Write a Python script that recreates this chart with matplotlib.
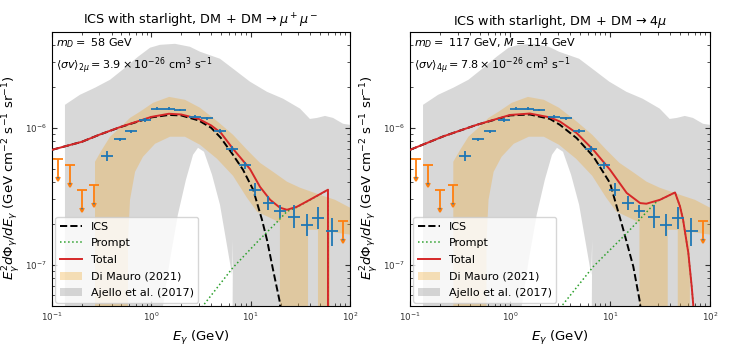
import matplotlib
matplotlib.use("Agg")
import matplotlib.pyplot as plt

# ---------------- data (shared Fermi GCE points) ----------------
data_E = [0.358, 0.48, 0.63, 0.87, 1.14, 1.50, 1.96, 2.77, 3.6, 4.91, 6.44, 8.78,
          11.1, 15.1, 19.7, 27.3, 36.6, 48.0, 65.3]
data_F = [6.25e-7, 8.27e-7, 9.46e-7, 1.14e-6, 1.38e-6, 1.38e-6, 1.35e-6, 1.20e-6,
          1.17e-6, 9.46e-7, 7.0e-7, 5.34e-7, 3.52e-7, 2.82e-7, 2.45e-7, 2.25e-7,
          1.96e-7, 2.19e-7, 1.75e-7]
data_F_lo = [5.75e-7, 8.06e-7, 9.22e-7, 1.11e-6, 1.35e-6, 1.35e-6, 1.32e-6, 1.17e-6,
             1.14e-6, 9.15e-7, 6.66e-7, 5.03e-7, 3.16e-7, 2.49e-7, 2.19e-7, 1.87e-7,
             1.63e-7, 1.82e-7, 1.38e-7]
data_F_hi = [6.80e-7, 8.48e-7, 9.70e-7, 1.17e-6, 1.41e-6, 1.41e-6, 1.38e-6, 1.23e-6,
             1.20e-6, 9.78e-7, 7.36e-7, 5.66e-7, 3.92e-7, 3.20e-7, 2.74e-7, 2.71e-7,
             2.36e-7, 2.63e-7, 2.21e-7]
data_E_lo = [0.312, 0.418, 0.549, 0.758, 0.993, 1.31, 1.71, 2.41, 3.14, 4.28, 5.61, 7.65,
             9.67, 13.2, 17.2, 23.8, 31.9, 41.8, 56.9]
data_E_hi = [0.411, 0.551, 0.723, 0.999, 1.31, 1.72, 2.25, 3.18, 4.13, 5.64, 7.39, 10.1,
             12.7, 17.3, 22.6, 31.3, 42.0, 55.1, 75.0]

ul_E = [0.116, 0.152, 0.199, 0.267, 85.7]
ul_F = [5.91e-7, 5.37e-7, 3.52e-7, 3.84e-7, 2.07e-7]

# ---------------- bands (polygons) ----------------
ajello_E = [0.135, 0.135, 0.191, 0.271, 0.384, 0.543, 0.735, 0.971, 1.22, 1.73, 2.45,
            3.09, 4.91, 6.64, 9.84, 14.6, 21.2, 31.4, 39.5, 46.6, 56.0, 67.5, 85.1,
            100.0, 100.0, 6.49, 6.64, 6.49, 4.91, 4.08, 3.39, 2.95, 2.63, 2.23, 1.85,
            1.54, 1.31, 1.28]
ajello_F = [1e-8, 1.47e-6, 1.74e-6, 1.96e-6, 2.24e-6, 2.74e-6, 3.30e-6, 3.84e-6, 4.03e-6,
            4.10e-6, 3.90e-6, 3.59e-6, 3.19e-6, 2.70e-6, 2.17e-6, 1.83e-6, 1.63e-6,
            1.38e-6, 1.16e-6, 1.18e-6, 1.22e-6, 1.18e-6, 1.07e-6, 1.05e-6, 1e-8, 1e-8,
            1.52e-7, 8.45e-8, 2.74e-7, 4.54e-7, 6.68e-7, 7.14e-7, 6.35e-7, 4.17e-7,
            2.32e-7, 1.09e-7, 5e-8, 1e-8]

dimauro_E = [0.271, 0.271, 0.318, 0.384, 0.484, 0.610, 0.769, 1.04, 1.51, 2.18, 3.09,
             4.58, 6.64, 9.18, 12.4, 16.8, 23.2, 31.4, 49.9, 70.6, 100.0,
             100.0, 62.9, 62.9, 47.6, 47.6, 37.8, 37.8, 19.7, 19.7, 15.7, 11.6, 9.18,
             6.64, 4.58, 3.09, 2.18, 1.54, 1.09, 0.824, 0.686, 0.610, 0.582, 0.582]
dimauro_F = [1e-8, 5.65e-7, 6.91e-7, 8.60e-7, 1.0e-6, 1.18e-6, 1.31e-6, 1.52e-6, 1.68e-6,
             1.60e-6, 1.40e-6, 1.12e-6, 8.89e-7, 6.91e-7, 5.55e-7, 4.77e-7, 4.04e-7,
             3.65e-7, 3.24e-7, 2.98e-7, 2.61e-7,
             1.66e-7, 1.74e-7, 1e-8, 1e-8, 1.80e-7, 1.80e-7, 1e-8, 1e-8, 2.03e-7,
             2.20e-7, 2.44e-7, 3.08e-7, 4.46e-7, 5.94e-7, 7.51e-7, 8.60e-7, 8.60e-7,
             7.64e-7, 6.14e-7, 4.77e-7, 2.98e-7, 1.5e-7, 1e-8]

# ---------------- model curves: left panel (2mu) ----------------
ics1_E = [0.1, 0.2, 0.3, 0.5, 1.0, 1.5, 2.0, 3.0, 4.0, 5.0, 6.63, 8.37, 10.6, 13.0,
          14.6, 16.8, 19.7, 20.5]
ics1_F = [6.9e-7, 7.9e-7, 8.9e-7, 1.017e-6, 1.19e-6, 1.24e-6, 1.23e-6, 1.13e-6, 1.0e-6,
          8.45e-7, 6.35e-7, 4.94e-7, 3.53e-7, 2.13e-7, 1.52e-7, 9.2e-8, 5.3e-8, 3e-8]
prompt1_E = [2.5, 3.3, 6.6, 12.0, 18.4, 23.2, 29.2, 39.4, 60.0, 60.01]
prompt1_F = [4.0e-8, 5.0e-8, 9.5e-8, 1.5e-7, 2.05e-7, 2.45e-7, 2.63e-7, 2.97e-7,
             3.52e-7, 1e-8]
total1_E = [0.1, 0.2, 0.3, 0.5, 1.0, 1.5, 2.0, 3.0, 4.0, 5.0, 6.63, 9.84, 12.4, 15.7,
            19.7, 23.2, 29.2, 39.4, 60.0, 60.01]
total1_F = [6.9e-7, 7.9e-7, 8.9e-7, 1.02e-6, 1.2e-6, 1.265e-6, 1.25e-6, 1.16e-6, 1.04e-6,
            9.2e-7, 7.03e-7, 5.0e-7, 3.71e-7, 2.98e-7, 2.61e-7, 2.52e-7, 2.65e-7,
            2.98e-7, 3.53e-7, 1e-8]

# ---------------- model curves: right panel (4mu) ----------------
ics2_E = [0.1, 0.215, 0.464, 1.0, 1.58, 2.51, 3.16, 4.64, 6.81, 10.0, 13.6, 17.1,
          20.0, 21.0]
ics2_F = [6.9e-7, 8.65e-7, 1.05e-6, 1.23e-6, 1.25e-6, 1.16e-6, 1.05e-6, 8.4e-7, 6.18e-7,
          3.95e-7, 1.8e-7, 9.7e-8, 5.25e-8, 3e-8]
prompt2_E = [2.5, 3.29, 6.81, 14.7, 28.2, 31.6, 44.7, 50.1, 53.8, 60.7, 65.6, 68.0, 70.0]
prompt2_F = [3.6e-8, 5.0e-8, 9.7e-8, 1.70e-7, 2.82e-7, 2.98e-7, 3.37e-7, 2.67e-7,
             2.13e-7, 1.22e-7, 6.95e-8, 5.1e-8, 3e-8]
total2_E = [0.1, 0.215, 0.464, 1.0, 1.58, 2.51, 3.16, 4.64, 6.81, 10.0, 14.7, 20.0,
            23.1, 31.6, 44.7, 50.1, 53.8, 60.7, 65.6, 68.0, 70.0]
total2_F = [6.9e-7, 8.65e-7, 1.05e-6, 1.24e-6, 1.27e-6, 1.19e-6, 1.11e-6, 9.15e-7,
            6.9e-7, 4.94e-7, 3.34e-7, 2.82e-7, 2.79e-7, 2.98e-7, 3.37e-7, 2.67e-7,
            2.13e-7, 1.22e-7, 6.95e-8, 5.1e-8, 3e-8]

titles = [r"ICS with starlight, DM$\,+\,$DM$\,\rightarrow\mu^+\mu^-$",
          r"ICS with starlight, DM$\,+\,$DM$\,\rightarrow 4\mu$"]
notes = [[r"$m_D =$ 58 GeV",
          r"$\langle\sigma v\rangle_{2\mu} = 3.9\times10^{-26}$ cm$^3$ s$^{-1}$"],
         [r"$m_D =$ 117 GeV, $M = 114$ GeV",
          r"$\langle\sigma v\rangle_{4\mu} = 7.8\times10^{-26}$ cm$^3$ s$^{-1}$"]]
legend_labels = ["ICS", "Prompt", "Total", "Di Mauro (2021)", "Ajello et al. (2017)"]

curves = [(ics1_E, ics1_F, prompt1_E, prompt1_F, total1_E, total1_F),
          (ics2_E, ics2_F, prompt2_E, prompt2_F, total2_E, total2_F)]

fig = plt.figure(figsize=(7.34, 3.48), dpi=100)
W, H = 734.0, 348.0
rects = [[52 / W, 42 / H, 298 / W, 274 / H], [410 / W, 42 / H, 300 / W, 274 / H]]
ylab_x = [-0.10, -0.10]

for k in range(2):
    ax = fig.add_axes(rects[k])
    ax.set_xscale("log")
    ax.set_yscale("log")
    aj = ax.fill(ajello_E, ajello_F, color="gray", alpha=0.3, lw=0, zorder=1)[0]
    dm = ax.fill(dimauro_E, dimauro_F, color="#f0a830", alpha=0.33, lw=0, zorder=2)[0]
    iE, iF, pE, pF, tE, tF = curves[k]
    l_ics, = ax.plot(iE, iF, color="black", ls="--", lw=1.4, zorder=3)
    l_pr, = ax.plot(pE, pF, color="tab:green", ls=":", lw=1.1, zorder=3)
    l_tot, = ax.plot(tE, tF, color="tab:red", lw=1.4, zorder=4)
    xerr = [[e - lo for e, lo in zip(data_E, data_E_lo)],
            [hi - e for e, hi in zip(data_E, data_E_hi)]]
    yerr = [[f - lo for f, lo in zip(data_F, data_F_lo)],
            [hi - f for f, hi in zip(data_F, data_F_hi)]]
    ax.errorbar(data_E, data_F, xerr=xerr, yerr=yerr, fmt="none",
                ecolor="tab:blue", elinewidth=1.3, zorder=5)
    ul = ax.errorbar(ul_E, ul_F, yerr=[0.26 * f for f in ul_F], uplims=True, fmt="none",
                     ecolor="tab:orange", elinewidth=1.3, capsize=3.5, capthick=1.3,
                     zorder=5)
    for cl in ul.lines[1]:
        if cl.get_marker() != "_":
            cl.set_markersize(3.5)
    ax.set_xlim(0.1, 100)
    ax.set_ylim(5e-8, 5e-6)
    ax.tick_params(which="both", direction="in", top=True, right=True, labelsize=6.3,
                   colors="#333333")
    ax.tick_params(which="major", length=3.5)
    ax.tick_params(which="minor", length=2)
    ax.set_title(titles[k], fontsize=9.2, pad=5)
    ax.set_xlabel(r"$E_\gamma$ (GeV)", fontsize=9.5)
    ax.set_ylabel(r"$E_\gamma^2 d\Phi_\gamma/dE_\gamma$ (GeV cm$^{-2}$ s$^{-1}$ sr$^{-1}$)",
                  fontsize=9.5)
    ax.yaxis.set_label_coords(ylab_x[k], 0.47)
    ax.text(0.015, 0.985, notes[k][0], transform=ax.transAxes, va="top", ha="left",
            fontsize=8)
    ax.text(0.015, 0.915, notes[k][1], transform=ax.transAxes, va="top", ha="left",
            fontsize=8)
    ax.legend([l_ics, l_pr, l_tot, dm, aj], legend_labels, loc="lower left",
              fontsize=8, handlelength=2.0, borderaxespad=0.3, labelspacing=0.6)

fig.savefig("out.png", dpi=100)
